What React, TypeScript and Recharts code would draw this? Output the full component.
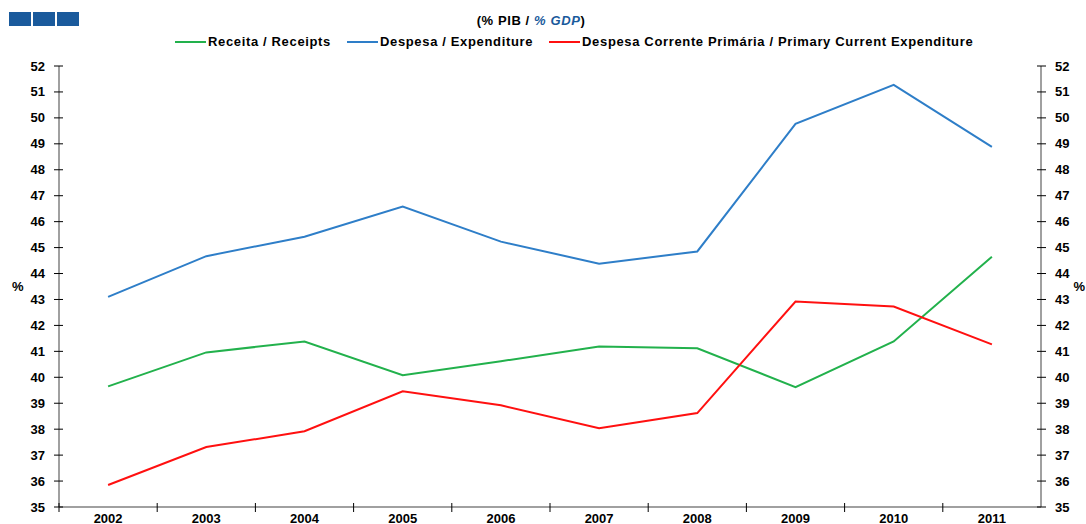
import { LineChart, Line, XAxis, YAxis, Legend } from 'recharts';

const years = ['2002', '2003', '2004', '2005', '2006', '2007', '2008', '2009', '2010', '2011'];
const receita = [39.65, 40.96, 41.38, 40.08, 40.62, 41.19, 41.12, 39.62, 41.38, 44.65];
const despesa = [43.1, 44.67, 45.42, 46.58, 45.23, 44.38, 44.85, 49.77, 51.27, 48.88];
const corrente = [35.85, 37.31, 37.92, 39.46, 38.92, 38.04, 38.62, 42.92, 42.73, 41.27];
const yTicks = [35, 36, 37, 38, 39, 40, 41, 42, 43, 44, 45, 46, 47, 48, 49, 50, 51, 52];
const seriesNames = [
  'Receita / Receipts',
  'Despesa / Expenditure',
  'Despesa Corrente Primária / Primary Current Expenditure',
];

const data = years.map((year, i) => ({
  year,
  receita: receita[i],
  despesa: despesa[i],
  corrente: corrente[i],
}));

const FONT = '"Liberation Sans", Arial, sans-serif';
const PLOT_W = 1041 - 59;
const BAND = PLOT_W / years.length;

const LeftTick = (props: any) => {
  const { x, y, payload } = props;
  return (
    <g>
      <line x1={x - 5} x2={x + 4} y1={y} y2={y} stroke="#000" strokeWidth={1} />
      <text x={x - 14} y={y} dy="0.35em" textAnchor="end" fontFamily={FONT} fontWeight="bold" fontSize={13} fill="#000">
        {payload.value}
      </text>
    </g>
  );
};

const RightTick = (props: any) => {
  const { x, y, payload } = props;
  return (
    <g>
      <line x1={x - 4} x2={x + 5} y1={y} y2={y} stroke="#000" strokeWidth={1} />
      <text x={x + 14} y={y} dy="0.35em" textAnchor="start" fontFamily={FONT} fontWeight="bold" fontSize={13} fill="#000">
        {payload.value}
      </text>
    </g>
  );
};

const BottomTick = (props: any) => {
  const { x, y, payload } = props;
  return (
    <g>
      <line x1={x - BAND / 2} x2={x - BAND / 2} y1={y - 4} y2={y + 5} stroke="#000" strokeWidth={1} />
      <text x={x} y={y + 16} textAnchor="middle" fontFamily={FONT} fontWeight="bold" fontSize={13} fill="#000">
        {payload.value}
      </text>
    </g>
  );
};

const renderLegend = (props: any) => {
  const payload = [...props.payload].sort(
    (a: any, b: any) => seriesNames.indexOf(a.value) - seriesNames.indexOf(b.value)
  );
  return (
    <div style={{ display: 'flex', paddingLeft: 175, fontFamily: FONT, fontWeight: 'bold', fontSize: 13, letterSpacing: 0.65 }}>
      {payload.map((entry: any) => (
        <div key={entry.value} style={{ display: 'flex', alignItems: 'center', marginRight: 16 }}>
          <span style={{ display: 'inline-block', width: 31, height: 2, background: entry.color, marginRight: 2 }} />
          <span>{entry.value}</span>
        </div>
      ))}
    </div>
  );
};

export default function App() {
  return (
    <div style={{ position: 'absolute', left: 0, top: 0, width: 1086, height: 524, background: '#fff', overflow: 'hidden' }}>
      <div style={{ position: 'absolute', left: 9, top: 12, display: 'flex', gap: 2 }}>
        <div style={{ width: 22, height: 14, background: '#1A5A9C' }} />
        <div style={{ width: 22, height: 14, background: '#1A5A9C' }} />
        <div style={{ width: 22, height: 14, background: '#1A5A9C' }} />
      </div>
      <div style={{ position: 'absolute', left: 0, width: 1062, top: 13, textAlign: 'center', fontFamily: FONT, fontWeight: 'bold', fontSize: 13, letterSpacing: 0.6 }}>
        (% PIB / <span style={{ color: '#1A5A9C', fontStyle: 'italic' }}>% GDP</span>)
      </div>
      <LineChart width={1086} height={524} data={data} margin={{ top: 51, right: 0, bottom: 0, left: 0 }}>
        <Legend
          verticalAlign="top"
          align="left"
          content={renderLegend}
          wrapperStyle={{ top: 34, left: 0 }}
        />
        <XAxis
          dataKey="year"
          height={17}
          tickSize={0}
          tickMargin={0}
          tick={<BottomTick />}
          stroke="#808080"
          strokeWidth={1.5}
          interval={0}
          padding={{ left: BAND / 2, right: BAND / 2 }}
        />
        <YAxis
          yAxisId="left"
          orientation="left"
          width={59}
          domain={[35, 52]}
          ticks={yTicks}
          interval={0}
          tickSize={0}
          tickMargin={0}
          tick={<LeftTick />}
          stroke="#808080"
          strokeWidth={1.5}
          label={{ value: '%', position: 'insideLeft', offset: 12, fontFamily: FONT, fontWeight: 'bold', fontSize: 13, fill: '#000' }}
        />
        <YAxis
          yAxisId="right"
          orientation="right"
          width={45}
          domain={[35, 52]}
          ticks={yTicks}
          interval={0}
          tickSize={0}
          tickMargin={0}
          tick={<RightTick />}
          stroke="#808080"
          strokeWidth={1.5}
          label={{ value: '%', position: 'insideRight', offset: 1, fontFamily: FONT, fontWeight: 'bold', fontSize: 13, fill: '#000' }}
        />
        <Line yAxisId="left" dataKey="receita" name={seriesNames[0]} stroke="#22B14C" strokeWidth={2} dot={false} isAnimationActive={false} />
        <Line yAxisId="left" dataKey="despesa" name={seriesNames[1]} stroke="#2E7EC8" strokeWidth={2} dot={false} isAnimationActive={false} />
        <Line yAxisId="right" dataKey="corrente" name={seriesNames[2]} stroke="#FF1010" strokeWidth={2} dot={false} isAnimationActive={false} />
      </LineChart>
    </div>
  );
}
